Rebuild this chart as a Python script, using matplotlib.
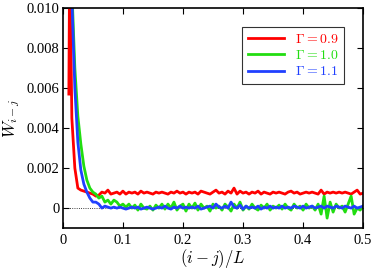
import numpy as np
import matplotlib
matplotlib.use('Agg')
import matplotlib.pyplot as plt

plt.rcParams['font.family'] = ['Liberation Serif', 'DejaVu Serif']
plt.rcParams['mathtext.fontset'] = 'cm'

# shared grid (i-j)/L from 0.015 to 0.5
x_grid = np.arange(3, 101) * 0.005

# Gamma = 0.9
head_x_red = [0.010, 0.0115]
head_y_red = [0.0057, 0.0130]
y_red = [0.0045, 0.0020, 0.0010, 0.0009, 0.00085, 0.0008, 0.00075, 0.0007, 0.0006, 0.00065,
         0.0008, 0.00075, 0.0009, 0.0007, 0.00075, 0.0008, 0.0007, 0.00085, 0.0007, 0.0008,
         0.00075, 0.0008, 0.0007, 0.00085, 0.00075, 0.0008, 0.00075, 0.0007, 0.0008, 0.00075,
         0.0008, 0.00075, 0.0007, 0.0008, 0.00075, 0.00085, 0.00075, 0.0008, 0.0007, 0.0008,
         0.00075, 0.0008, 0.0007, 0.00085, 0.0008, 0.00075, 0.0007, 0.0008, 0.0009, 0.00075,
         0.0008, 0.0007, 0.00085, 0.00075, 0.0010, 0.0007, 0.00085, 0.00075, 0.0008, 0.0007,
         0.0008, 0.00075, 0.00085, 0.0007, 0.0008, 0.00075, 0.0007, 0.0008, 0.00075, 0.0008,
         0.00075, 0.0007, 0.0008, 0.00085, 0.00075, 0.0008, 0.0007, 0.00075, 0.0008, 0.00075,
         0.0008, 0.00075, 0.0007, 0.0009, 0.0007, 0.0008, 0.00075, 0.0008, 0.00075, 0.0008,
         0.00075, 0.0008, 0.00075, 0.0007, 0.0008, 0.0009, 0.0007, 0.00075]

# Gamma = 1.0
y_green = [0.0110, 0.0070, 0.0046, 0.0032, 0.0021, 0.0014, 0.0010, 0.0008, 0.0007, 0.0005,
           0.0006, 0.0003, 0.0004, 0.0002, 0.0004, 0.0003, 0.0001, 0.0002, 0.00005, 0.0002,
           0.0, 0.00015, -0.0001, 0.0002, 0.0, -0.00005, 0.0001, -0.0001, 0.00015, 0.0,
           0.0002, -0.00005, 0.0002, 0.0, 0.0003, -0.0001, 0.0001, 0.0002, -0.00015, 0.0002,
           0.0, 0.00025, -0.0001, 0.0002, 0.0, 0.0001, -0.00015, 0.0002, 0.0, 0.0001,
           -0.0001, 0.0002, 0.00005, -0.00015, 0.0002, 0.0, 0.0003, -0.0001, 0.0001, -0.00005,
           0.0002, 0.0, -0.0001, 0.00015, 0.0, 0.0002, -0.0001, 0.0001, 0.0, 0.00015,
           -0.00005, 0.0002, 0.0, -0.0001, 0.0002, 0.0, 0.0001, -0.0001, 0.0002, 0.0,
           0.0001, -0.0001, 0.0002, -0.0003, 0.0006, -0.0005, 0.0003, -0.0002, 0.0002, 0.0,
           0.0001, -0.0002, 0.0002, 0.0006, -0.0003, 0.0, -0.0001, 0.0001]

# Gamma = 1.1
y_blue = [0.0105, 0.0060, 0.0033, 0.0019, 0.0012, 0.0008, 0.0005, 0.0003, 0.0003, 0.0002,
          0.0, 0.0001, 0.00005, 0.0, 0.00005, 0.0, 0.00005, 0.0, -0.00005, 0.0,
          0.00005, 0.0, 0.00005, -0.00005, 0.0, 0.00005, 0.0, -0.00005, 0.0, 0.00005,
          0.0, 0.0001, 0.0, -0.00005, 0.00005, 0.0, 0.0001, 0.0, 0.00005, 0.0,
          0.00005, 0.0, 0.0001, -0.00005, 0.0, 0.00005, 0.0001, 0.0, 0.0002, 0.00005,
          0.0, 0.0001, 0.0, 0.0003, 0.00005, 0.0, 0.00015, -0.00005, 0.0001, 0.0,
          0.00005, 0.0, 0.0001, -0.00005, 0.00005, 0.0, 0.0001, 0.0, 0.00005, 0.0,
          0.0001, 0.0, 0.00005, 0.0, 0.0001, 0.00005, 0.0, 0.0001, 0.0, 0.00005,
          0.0001, 0.0, 0.00005, 0.0001, 0.0, 0.0001, 0.00005, 0.0, 0.0001, 0.00005,
          0.0, 0.0001, 0.00005, 0.0, 0.0001, 0.0, 0.00005, 0.0001]

labels = [r'$\Gamma = 0.9$', r'$\Gamma = 1.0$', r'$\Gamma = 1.1$']
colors = ['#ff0000', '#22dd11', '#2040ff']

xticks = [0, 0.1, 0.2, 0.3, 0.4, 0.5]
xticklabels = ['0', '0.1', '0.2', '0.3', '0.4', '0.5']
yticks = [0, 0.002, 0.004, 0.006, 0.008, 0.010]
yticklabels = ['0', '0.002', '0.004', '0.006', '0.008', '0.010']

fig = plt.figure(figsize=(3.74, 2.69), dpi=100)
ax = fig.add_axes([0.168, 0.152, 0.803, 0.818])

ax.axhline(0, color='k', ls=':', lw=0.6, zorder=1)
ax.plot(np.concatenate([head_x_red, x_grid]), head_y_red + y_red, color=colors[0], lw=2, label=labels[0])
ax.plot(x_grid, y_green, color=colors[1], lw=2, label=labels[1])
ax.plot(x_grid, y_blue, color=colors[2], lw=2, label=labels[2])

ax.set_xlim(0, 0.5)
ax.set_ylim(-0.001, 0.010)
ax.set_xticks(xticks)
ax.set_xticklabels(xticklabels)
ax.set_yticks(yticks)
ax.set_yticklabels(yticklabels)
ax.tick_params(direction='in', top=True, right=True, labelsize=10.5, length=4, width=0.8)
ax.tick_params(axis='x', pad=4)
ax.tick_params(axis='y', pad=2.5)
for s in ax.spines.values():
    s.set_linewidth(1.2)

ax.set_xlabel(r'$(i-j)/L$', fontsize=12, labelpad=0)
ax.set_ylabel(r'$W_{i-j}$', fontsize=12, labelpad=3)

leg = ax.legend(loc='upper right', bbox_to_anchor=(0.937, 0.914), fontsize=10, fancybox=False,
                edgecolor='k', handlelength=2.6, labelspacing=0.25, borderpad=0.4, handletextpad=0.8,
                borderaxespad=0)
leg.get_frame().set_linewidth(0.8)
for t, c in zip(leg.get_texts(), colors):
    t.set_color(c)

plt.savefig('out.png', dpi=100)
